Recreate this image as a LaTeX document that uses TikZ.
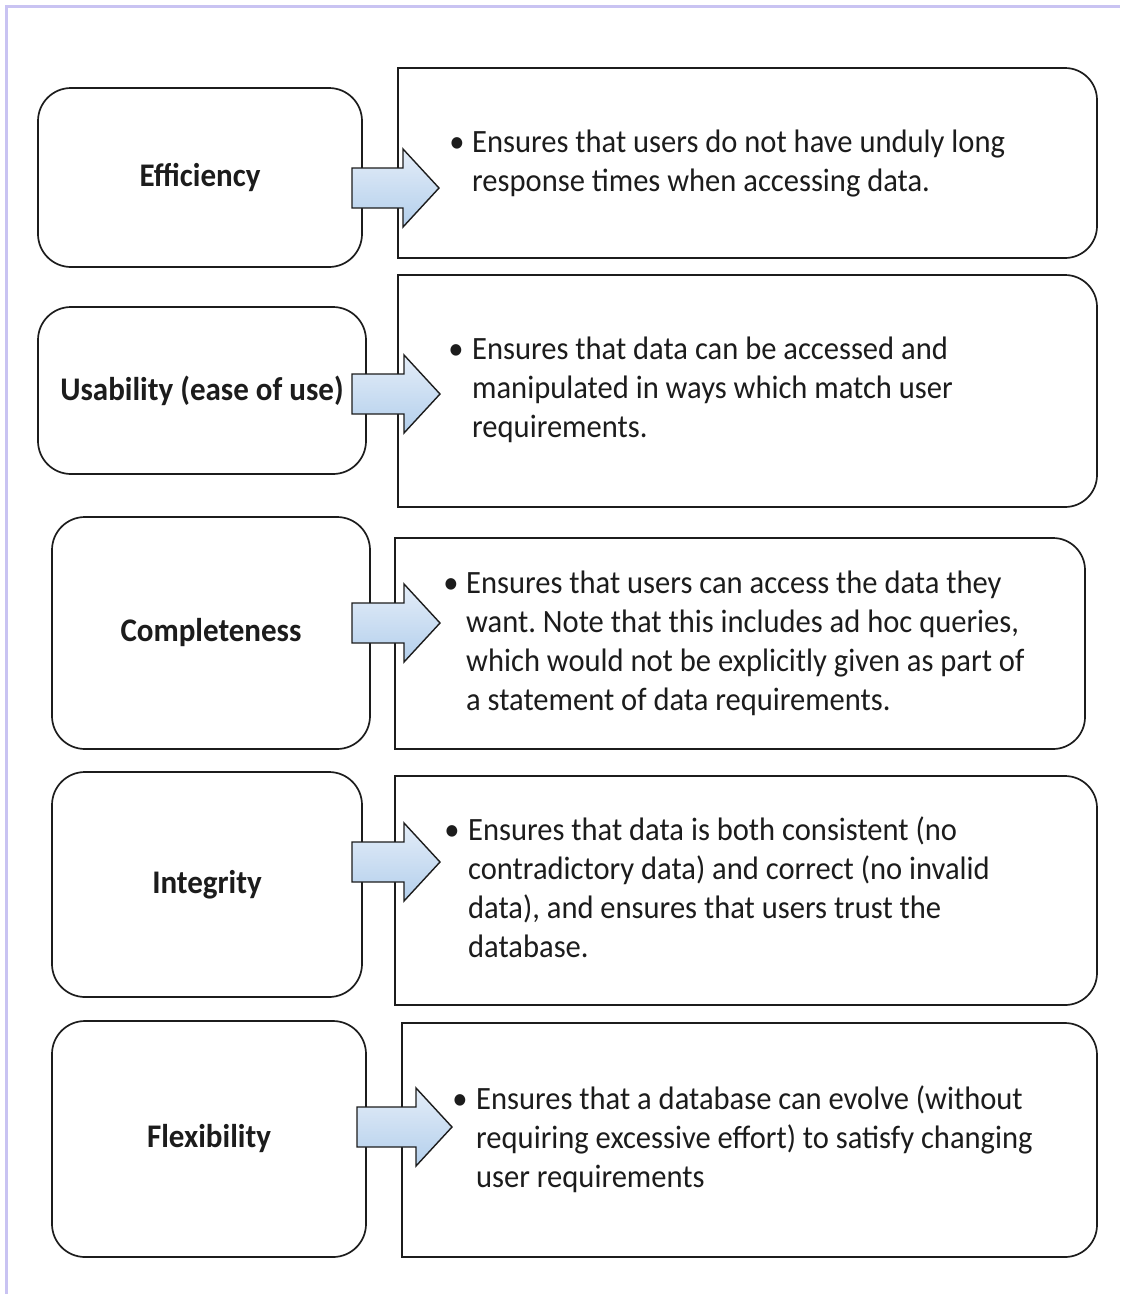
\documentclass[tikz,border=0pt]{standalone}
\usepackage{fontspec}
\setmainfont{Carlito}[FakeStretch=0.94]
\usetikzlibrary{calc}
\frenchspacing

\definecolor{framelilac}{HTML}{C9C3F2}
\definecolor{ink}{HTML}{1C1C1C}
\definecolor{arrowtop}{HTML}{E4EDF8}
\definecolor{arrowbot}{HTML}{B3CFEC}

% one line list, first baseline on the node's base
\newcommand\desclines[1]{\begin{tabular}[t]{@{}l@{}}#1\end{tabular}}

% block arrow: name, start x, centre y, shaft length
\newcommand\blockarrow[4]{%
  \coordinate (#1) at (#2,#3);
  \draw[arrowbody] ($(#1)+(0,20)$) -- ++(#4,0) -- ++(0,19)
    -- ++(36,-39) -- ++(-36,-39) -- ++(0,19) -- ($(#1)+(0,-20)$) -- cycle;
}

% right box outline: square on the left, rounded on the right
\newcommand\rightoutline[1]{%
  \draw[boxline] (#1.south west) -- (#1.north west)
    -- ([xshift=-32]#1.north east) arc[start angle=90,end angle=0,radius=32]
    -- ([yshift=32]#1.south east) arc[start angle=0,end angle=-90,radius=32]
    -- cycle;
}

\tikzset{
  boxline/.style={draw=ink, line width=1.7pt},
  leftbox/.style={boxline, rounded corners=33pt, inner sep=0pt, outer sep=0pt,
    font=\fontsize{33}{38}\selectfont\bfseries, text=ink},
  rightbox/.style={draw=none, inner sep=0pt, outer sep=0pt},
  arrowbody/.style={draw=ink, line width=1.4pt, line join=miter,
    top color=arrowtop, bottom color=arrowbot},
  desc/.style={anchor=base west, inner sep=0pt, text=ink,
    font=\fontsize{32.5}{39}\selectfont},
  dot/.style={anchor=base, inner sep=0pt, text=ink,
    font=\fontsize{32.5}{39}\selectfont},
}

\begin{document}
\begin{tikzpicture}[x=1pt,y=1pt]
\useasboundingbox (0,0) rectangle (1120,-1294);
\fill[white] (0,0) rectangle (1120,-1294);

% lilac page frame (top and left edges)
\draw[framelilac, line width=3pt] (6,-1294) -- (6,-6) -- (1120,-6);

% left boxes
\node[leftbox, minimum width=324pt, minimum height=179pt] (L1) at (200,-177.5) {Efficiency};
\node[leftbox, minimum width=328pt, minimum height=167pt] (L2) at (202,-390.5) {Usability (ease of use)};
\node[leftbox, minimum width=318pt, minimum height=232pt] (L3) at (211,-633) {Completeness};
\node[leftbox, minimum width=310pt, minimum height=225pt] (L4) at (207,-884.5) {Integrity};
\node[leftbox, minimum width=314pt, minimum height=236pt] (L5) at (209,-1139) {Flexibility};

% right boxes
\node[rightbox, minimum width=699pt, minimum height=190pt] (R1) at (747.5,-163) {};
\node[rightbox, minimum width=699pt, minimum height=232pt] (R2) at (747.5,-391) {};
\node[rightbox, minimum width=690pt, minimum height=211pt] (R3) at (740,-643.5) {};
\node[rightbox, minimum width=702pt, minimum height=229pt] (R4) at (746,-890.5) {};
\node[rightbox, minimum width=695pt, minimum height=234pt] (R5) at (749.5,-1140) {};
\rightoutline{R1}
\rightoutline{R2}
\rightoutline{R3}
\rightoutline{R4}
\rightoutline{R5}

% block arrows from each property to its description
\blockarrow{A1}{352}{-188}{51}
\blockarrow{A2}{352}{-394}{52}
\blockarrow{A3}{352}{-623}{52}
\blockarrow{A4}{352}{-862}{52}
\blockarrow{A5}{357}{-1127}{59}

% descriptions
\node[desc] (T1) at (472,-152) {\desclines{Ensures that users do not have unduly long\\
  response times when accessing data.}};
\node[dot] (D1) at (457,-152) {•};

\node[desc] (T2) at (472,-359) {\desclines{Ensures that data can be accessed and\\
  manipulated in ways which match user\\ requirements.}};
\node[dot] (D2) at (456,-359) {•};

\node[desc] (T3) at (466,-593) {\desclines{Ensures that users can access the data they\\
  want. Note that this includes ad hoc queries,\\
  which would not be explicitly given as part of\\
  a statement of data requirements.}};
\node[dot] (D3) at (451,-593) {•};

\node[desc] (T4) at (468,-840) {\desclines{Ensures that data is both consistent (no\\
  contradictory data) and correct (no invalid\\
  data), and ensures that users trust the\\ database.}};
\node[dot] (D4) at (452,-840) {•};

\node[desc] (T5) at (476,-1109) {\desclines{Ensures that a database can evolve (without\\
  requiring excessive effort) to satisfy changing\\ user requirements}};
\node[dot] (D5) at (460,-1109) {•};
\end{tikzpicture}
\end{document}
